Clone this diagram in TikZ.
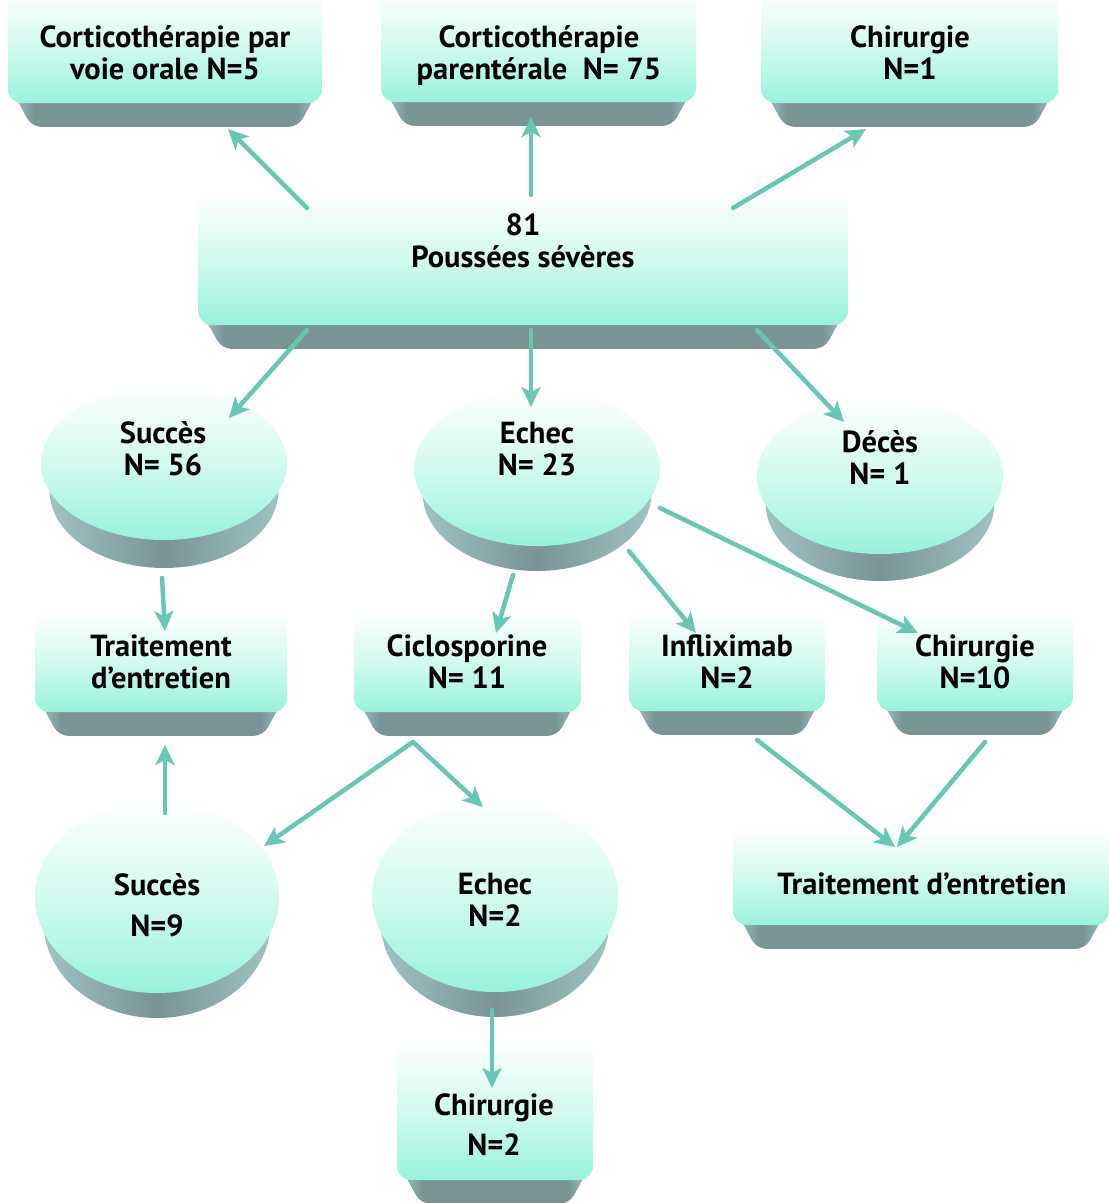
\documentclass[tikz,border=0pt]{standalone}
\usepackage{fontspec}
\setmainfont{PT Sans}
\usetikzlibrary{arrows.meta}
\definecolor{aqua}{RGB}{152,242,218}
\definecolor{aqmid}{RGB}{210,250,239}
\definecolor{basec}{RGB}{122,148,150}
\definecolor{bevl}{RGB}{166,202,202}
\definecolor{sidel}{RGB}{162,198,199}
\definecolor{sided}{RGB}{122,147,149}
\definecolor{arrc}{RGB}{104,198,180}
\newcommand\mybox[4]{%
  \begin{scope}
    \clip[rounded corners=10pt] ({#1},{-(#4)+20}) -- ({#1+24},{-(#4)-24}) -- ({#3-24},{-(#4)-24}) -- ({#3},{-(#4)+20}) -- cycle;
    \fill[basec] ({#1},{-(#4)+20}) rectangle ({#3},{-(#4)-24});
    \shade[left color=bevl, right color=basec] ({#1},{-(#4)+20}) rectangle ({#1+26},{-(#4)-24});
    \shade[left color=basec, right color=bevl] ({#3-26},{-(#4)+20}) rectangle ({#3},{-(#4)-24});
  \end{scope}
  \shade[top color=white, bottom color=aqua, middle color=aqmid, rounded corners=14pt] ({#1},{-(#2)}) rectangle ({#3},{-(#4)});
}
\newcommand\mycyl[5]{%
  \shade[left color=sidel, right color=sidel, middle color=sided] ({#1-#3},{-(#2)}) -- ({#1-0.93*#3},{-(#2)-#5}) arc[start angle=180, end angle=360, x radius={0.93*#3}, y radius=#4] -- ({#1+#3},{-(#2)}) -- cycle;
  \shade[top color=white, bottom color=aqua, middle color=aqmid] (#1,{-(#2)}) ellipse[x radius=#3, y radius=#4];
}
\tikzset{
  txt/.style={font=\fontsize{30.5}{32}\selectfont\bfseries, align=center, inner sep=0pt, text=black},
  arr/.style={draw=arrc, line width=4.5pt, line cap=round, -{Stealth[length=20pt,width=19pt,inset=5pt]}}
}
\begin{document}
\begin{tikzpicture}[x=1pt,y=1pt]
\useasboundingbox (0,0) rectangle (1109,-1203);
% boxes
\mybox{8}{-10}{322}{103}
\mybox{381}{-10}{696}{102}
\mybox{761}{-10}{1058}{103}
\mybox{198}{193}{848}{325}
\mybox{35}{612}{287}{712}
\mybox{354}{612}{581}{712}
\mybox{629}{612}{825}{711}
\mybox{877}{612}{1073}{711}
\mybox{733}{828}{1109}{925}
\mybox{397}{1043}{593}{1180}
% cylinders
\mycyl{164}{463}{123}{77}{28}
\mycyl{537}{468}{123}{78}{25}
\mycyl{880}{476}{123}{78}{27}
\mycyl{157}{897}{122}{96}{25}
\mycyl{495}{896}{123}{96}{25}
% texts
\node[txt] (t1) at (165,-53) {Corticothérapie par\\voie orale N=5};
\node[txt] (t2) at (539,-56) {Corticothérapie\\parentérale~~N= 75};
\node[txt] (t3) at (910,-53) {Chirurgie\\N=1};
\node[txt] (tm) at (523,-241) {81\\Poussées sévères};
\node[txt] (ts56) at (163,-449) {Succès\\N= 56};
\node[txt] (te23) at (537,-449) {Echec\\N= 23};
\node[txt] (td) at (880,-458) {Décès\\N= 1};
\node[txt] (ttl) at (161,-662) {Traitement\\d’entretien};
\node[txt] (tc) at (467,-662) {Ciclosporine\\N= 11};
\node[txt] (ti) at (727,-662) {Infliximab\\N=2};
\node[txt] (tc10) at (975,-662) {Chirurgie\\N=10};
\node[txt] (ts9) at (157,-905) {Succès\\[9pt]N=9};
\node[txt] (te2) at (495,-900) {Echec\\N=2};
\node[txt] (ttr) at (922,-884) {Traitement d’entretien};
\node[txt] (tc2) at (494,-1125) {Chirurgie\\[8pt]N=2};
% connector end points
\coordinate (m1) at (307,-208); \coordinate (h1) at (228,-129);
\coordinate (m2) at (531,-195); \coordinate (h2) at (531,-117);
\coordinate (m3) at (733,-208); \coordinate (h3) at (866,-129);
\coordinate (m4) at (307,-330); \coordinate (h4) at (229,-418);
\coordinate (m5) at (531,-330); \coordinate (h5) at (531,-407);
\coordinate (m6) at (757,-330); \coordinate (h6) at (844,-422);
\coordinate (s1) at (162,-578); \coordinate (h7) at (165,-631);
\coordinate (e1) at (513,-575); \coordinate (h8) at (496,-633);
\coordinate (e2) at (629,-551); \coordinate (h9) at (696,-633);
\coordinate (e3) at (660,-508); \coordinate (h10) at (918,-633);
\coordinate (c1) at (413,-742); \coordinate (h11) at (264,-846);
\coordinate (h12) at (483,-807);
\coordinate (s9) at (165,-813); \coordinate (h13) at (165,-745);
\coordinate (i1) at (757,-740); \coordinate (h14) at (895,-847);
\coordinate (k1) at (985,-742); \coordinate (h15) at (897,-847);
\coordinate (f1) at (492,-1010); \coordinate (h16) at (492,-1088);
% connectors
\draw[arr] (m1) -- (h1);
\draw[arr] (m2) -- (h2);
\draw[arr] (m3) -- (h3);
\draw[arr] (m4) -- (h4);
\draw[arr] (m5) -- (h5);
\draw[arr] (m6) -- (h6);
\draw[arr] (s1) -- (h7);
\draw[arr] (e1) -- (h8);
\draw[arr] (e2) -- (h9);
\draw[arr] (e3) -- (h10);
\draw[arr] (c1) -- (h11);
\draw[arr] (c1) -- (h12);
\draw[arr] (s9) -- (h13);
\draw[arr] (i1) -- (h14);
\draw[arr] (k1) -- (h15);
\draw[arr] (f1) -- (h16);
\end{tikzpicture}
\end{document}
